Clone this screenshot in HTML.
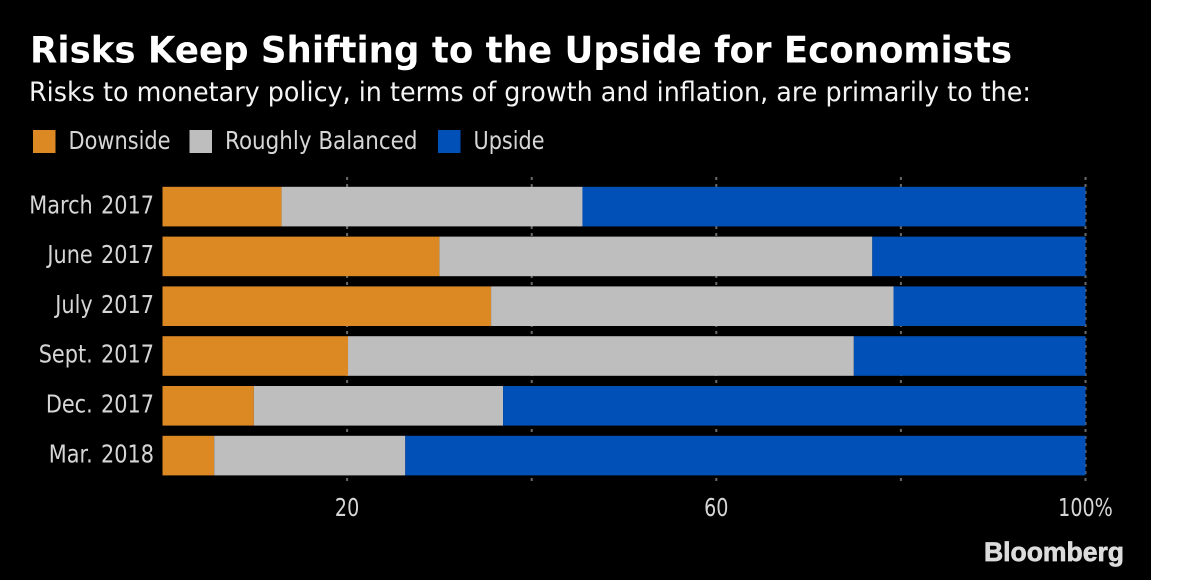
<!DOCTYPE html>
<html lang="en">
<head>
<meta charset="utf-8">
<title>Risks Keep Shifting to the Upside for Economists</title>
<style>
html,body{margin:0;padding:0;background:#fff;}
svg{display:block;}
text{font-family:"DejaVu Sans","Liberation Sans",sans-serif;}
</style>
</head>
<body>
<svg id="chart" width="1200" height="580" viewBox="0 0 1200 580" xmlns="http://www.w3.org/2000/svg">
  <rect x="0" y="0" width="1151" height="580" fill="#000"/>
  <text x="30" y="62.5" font-size="36.5" font-weight="700" fill="#fff" textLength="982" lengthAdjust="spacingAndGlyphs">Risks Keep Shifting to the Upside for Economists</text>
  <text x="29" y="101" font-size="27" fill="#f4f4f4" textLength="1002" lengthAdjust="spacingAndGlyphs">Risks to monetary policy, in terms of growth and inflation, are primarily to the:</text>
  <g id="legend"></g>
  <g id="grid"></g>
  <g id="bars"></g>
  <g id="ylabels"></g>
  <g id="xlabels"></g>
  <text x="984" y="561" style="font-family:'Liberation Sans',sans-serif" font-size="27" font-weight="700" fill="#dcdcdc" stroke="#dcdcdc" stroke-width="0.7" textLength="140" lengthAdjust="spacingAndGlyphs">Bloomberg</text>
</svg>
<script>
var categories = ["March 2017", "June 2017", "July 2017", "Sept. 2017", "Dec. 2017", "Mar. 2018"];
var downside = [12.9, 30, 35.6, 20.1, 9.9, 5.6];
var balanced = [32.6, 46.9, 43.6, 54.8, 27, 20.7];
var upside = [54.5, 23.1, 20.8, 25.1, 63.1, 73.7];
var seriesNames = ["Downside", "Roughly Balanced", "Upside"];
var gridTicks = [20, 40, 60, 80, 100];
var labelTicks = [20, 60, 100];

var NS = "http://www.w3.org/2000/svg";
var colors = ["#dc8924", "#bebebe", "#0050b8"];
var seriesValues = [downside, balanced, upside];
var plotLeft = 162.5, plotRight = 1085.5, plotTop = 186.8, bandStep = 49.8, barHeight = 39.6;
var categorySqueeze = 0.85;
var tickSqueeze = 0.78;

function xScale(v) { return plotLeft + (plotRight - plotLeft) * v / 100; }
function yScale(i) { return plotTop + bandStep * i; }
function make(tag, attrs, parent) {
  var el = document.createElementNS(NS, tag);
  for (var k in attrs) el.setAttribute(k, attrs[k]);
  parent.appendChild(el);
  return el;
}

var gridGroup = document.getElementById("grid");
gridTicks.forEach(function (t) {
  var line = make("line", {x1: xScale(t), x2: xScale(t), y1: 177, y2: 484, stroke: "#6a6a6a", "stroke-width": 2, "stroke-dasharray": "3 4"}, gridGroup);
  
  
});

var barsGroup = document.getElementById("bars");
categories.forEach(function (c, i) {
  var cum = 0;
  seriesValues.forEach(function (vals, s) {
    var x0 = xScale(cum), x1 = xScale(cum + vals[i]);
    var r = make("rect", {x: x0, y: yScale(i), width: x1 - x0, height: barHeight, fill: colors[s]}, barsGroup);
    
    
    cum += vals[i];
  });
});

var yGroup = document.getElementById("ylabels");
categories.forEach(function (c, i) {
  var t = make("text", {transform: "translate(154," + (yScale(i) + 26.5) + ") scale(" + categorySqueeze + ",1)", "text-anchor": "end", "font-size": 24.5, "word-spacing": 2, fill: "#d6d6d6"}, yGroup);
  t.textContent = c;
  
  
});

var xGroup = document.getElementById("xlabels");
labelTicks.forEach(function (v) {
  var t = make("text", {transform: "translate(" + xScale(v) + ",516) scale(" + tickSqueeze + ",1)", "text-anchor": "middle", "font-size": 24.5, fill: "#d6d6d6"}, xGroup);
  t.textContent = v === 100 ? v + "%" : String(v);
  
  
});

var legendGroup = document.getElementById("legend");
var legendBoxX = [33, 189.5, 438];
var legendTextLen = [102, 192.5, 71];
seriesNames.forEach(function (n, s) {
  var b = make("rect", {x: legendBoxX[s], y: 130, width: 22.5, height: 23, fill: colors[s]}, legendGroup);
  
  
  var t = make("text", {x: legendBoxX[s] + 35.5, y: 149, "font-size": 24.5, fill: "#d6d6d6", textLength: legendTextLen[s], lengthAdjust: "spacingAndGlyphs"}, legendGroup);
  t.textContent = n;
  
  
});
</script>
</body>
</html>
